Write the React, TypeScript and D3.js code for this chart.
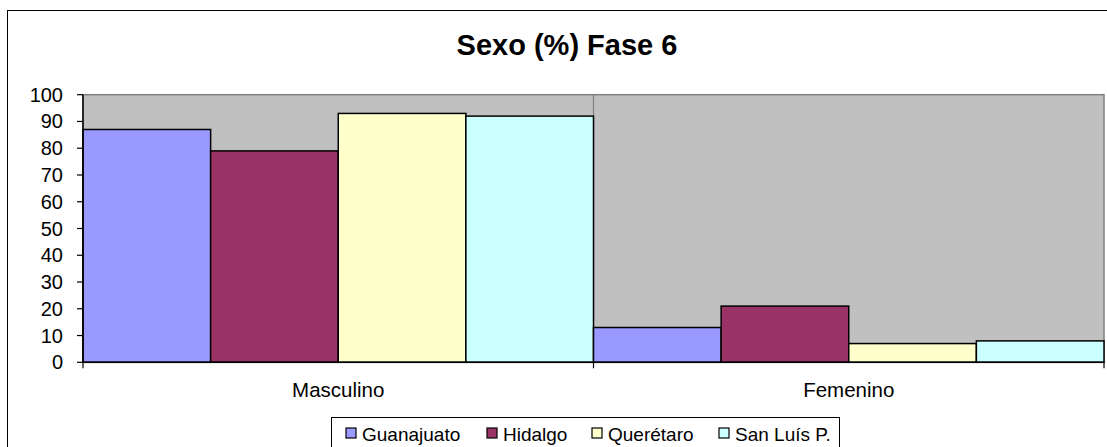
import React from "react";
import * as d3 from "d3";

const categories = ["Masculino", "Femenino"];
const seriesNames = ["Guanajuato", "Hidalgo", "Querétaro", "San Luís P."];
const seriesColors = ["#9999FF", "#993366", "#FFFFCC", "#CCFFFF"];
const guanajuato = [87, 13];
const hidalgo = [79, 21];
const queretaro = [93, 7];
const sanLuis = [92, 8];
const seriesValues = [guanajuato, hidalgo, queretaro, sanLuis];
const yTicks = [0, 10, 20, 30, 40, 50, 60, 70, 80, 90, 100];
const title = "Sexo (%) Fase 6";

const W = 1107;
const H = 447;
const plot = { left: 83, right: 1104, top: 94.7, bottom: 362.3 };
const font = "Arial, 'Liberation Sans', sans-serif";

export default function App() {
  const x0 = d3.scaleBand<string>().domain(categories).range([plot.left, plot.right]).padding(0);
  const x1 = d3.scaleBand<string>().domain(seriesNames).range([0, x0.bandwidth()]).padding(0);
  const y = d3.scaleLinear().domain([0, 100]).range([plot.bottom, plot.top]);

  const legendTextX = [362, 503, 608, 735];

  return (
    <svg width={W} height={H} style={{ position: "absolute", left: 0, top: 0, background: "#fff" }}>
      <rect x={7.5} y={10.5} width={1300} height={600} fill="#fff" stroke="#000" strokeWidth={1} />
      <text x={567} y={55} textAnchor="middle" fontFamily={font} fontWeight="bold" fontSize={29}>
        {title}
      </text>
      {/* plot area */}
      <rect
        x={plot.left}
        y={plot.top}
        width={plot.right - plot.left}
        height={plot.bottom - plot.top}
        fill="#C0C0C0"
        stroke="#808080"
        strokeWidth={1.5}
      />
      {categories.slice(1).map((c) => (
        <line key={c} x1={x0(c)!} x2={x0(c)!} y1={plot.top} y2={plot.bottom} stroke="#808080" strokeWidth={1.2} />
      ))}
      {/* bars */}
      {categories.map((c, ci) =>
        seriesNames.map((s, si) => {
          const v = seriesValues[si][ci];
          const bx = x0(c)! + x1(s)!;
          return (
            <rect
              key={c + s}
              x={bx}
              y={y(v)}
              width={x1.bandwidth()}
              height={y(0) - y(v)}
              fill={seriesColors[si]}
              stroke="#000"
              strokeWidth={1.5}
            />
          );
        })
      )}
      {/* y axis */}
      <line x1={plot.left} x2={plot.left} y1={plot.top} y2={plot.bottom} stroke="#000" strokeWidth={1.5} />
      {yTicks.map((t) => (
        <g key={t}>
          <line x1={plot.left - 6} x2={plot.left} y1={y(t)} y2={y(t)} stroke="#000" strokeWidth={1.2} />
          <text x={63} y={y(t) + 7} textAnchor="end" fontFamily={font} fontSize={20}>
            {t}
          </text>
        </g>
      ))}
      {/* x axis */}
      <line x1={plot.left} x2={plot.right} y1={plot.bottom} y2={plot.bottom} stroke="#000" strokeWidth={1.5} />
      {[plot.left, ...categories.slice(1).map((c) => x0(c)!), plot.right].map((px, i) => (
        <line key={i} x1={px} x2={px} y1={plot.bottom} y2={plot.bottom + 6} stroke="#000" strokeWidth={1.2} />
      ))}
      {categories.map((c) => (
        <text key={c} x={x0(c)! + x0.bandwidth() / 2} y={397} textAnchor="middle" fontFamily={font} fontSize={20.5}>
          {c}
        </text>
      ))}
      {/* legend */}
      <rect x={331.5} y={417.5} width={508} height={60} fill="#fff" stroke="#000" strokeWidth={1} />
      {seriesNames.map((s, i) => (
        <g key={s}>
          <rect x={legendTextX[i] - 16} y={428} width={10} height={10} fill={seriesColors[i]} stroke="#000" strokeWidth={1.2} />
          <text x={legendTextX[i]} y={441} fontFamily={font} fontSize={19}>
            {s}
          </text>
        </g>
      ))}
    </svg>
  );
}
